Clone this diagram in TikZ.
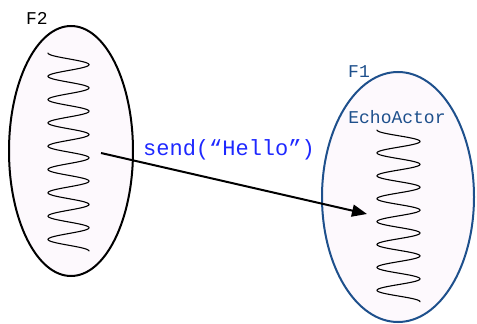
\documentclass[tikz,border=0pt]{standalone}
\usepackage{fontspec}
\setmonofont{Liberation Mono}
\usepackage{tikz}
\usetikzlibrary{shapes.geometric,arrows.meta}

\definecolor{actorfill}{RGB}{253,249,253}
\definecolor{nodeblue}{RGB}{30,80,140}
\definecolor{msgblue}{RGB}{30,40,255}

\tikzset{
  frame/.style={ellipse, draw=black, line width=2pt, fill=actorfill, inner sep=0pt},
  tag/.style={font=\ttfamily\fontsize{18}{20}\selectfont, inner sep=0pt},
  coil/.style={line width=1.1pt, line cap=round}
}

\begin{document}
\begin{tikzpicture}[x=1pt,y=-1pt]
  \useasboundingbox (0,0) rectangle (477,324);

  %% the two frames
  \node[frame, minimum width=124pt, minimum height=250pt] (ftwo) at (71,151) {};
  \node[frame, draw=nodeblue, minimum width=152pt, minimum height=250pt] (fone) at (398,197) {};

  %% labels
  \node[tag] (ftwolabel) at (37,18) {F2};
  \node[tag, text=nodeblue] (fonelabel) at (359,72) {F1};
  \node[tag, text=nodeblue] (echo) at (397,117) {EchoActor};

  %% threads (coils)
  \draw[coil] plot[domain=0:3060, samples=400] ({68.5-20.5*cos(\x)}, {53+\x/360*23.3});
  \draw[coil] plot[domain=0:2700, samples=360] ({398.5-21.5*cos(\x)}, {130+\x/360*22.9});

  %% message
  \coordinate (sender) at (101,153);
  \coordinate (receiver) at (367,214);
  \draw[-{Triangle[length=15pt,width=12pt]}, line width=2pt] (sender) -- (receiver);
  \node[text=msgblue, font=\ttfamily\fontsize{22}{24}\selectfont, inner sep=0pt] (msg) at (229,150) {send(“Hello”)};
\end{tikzpicture}
\end{document}
